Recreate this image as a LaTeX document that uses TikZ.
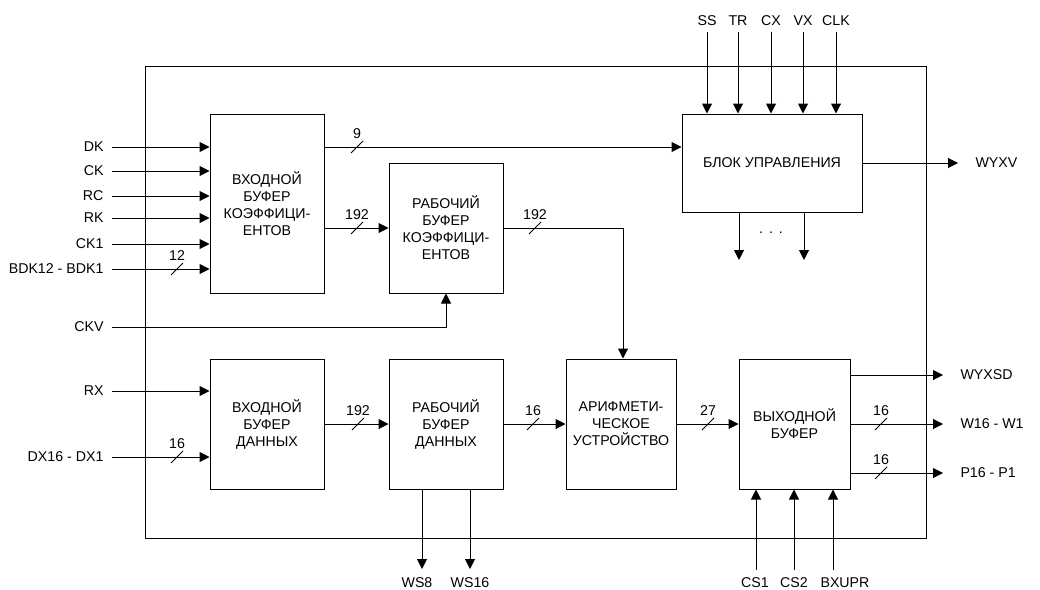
\documentclass[tikz,border=0pt]{standalone}
\usepackage{fontspec}
\setmainfont{Liberation Sans}
\usetikzlibrary{arrows.meta}
\begin{document}
\begin{tikzpicture}[x=1pt,y=-1pt, line width=1pt,
  arr/.style={-{Triangle[length=10pt,width=10pt]}},
  blk/.style={draw, align=center, inner sep=0pt, font=\fontsize{14.2}{17}\selectfont},
  lbl/.style={inner sep=0pt, font=\fontsize{14.2}{16}\selectfont},
  pics/bus/.style={code={\draw[line width=0.9pt] (-6,6) -- (6,-6); \node[lbl] at (0,-13) {#1};}}]
\useasboundingbox (0,0) rectangle (1040,589);
% frame
\node[draw, minimum width=781pt, minimum height=472pt, inner sep=0pt] (frame) at (535.5,302) {};
% blocks
\node[blk, minimum width=114pt, minimum height=179pt] (b1) at (267,203.5) {ВХОДНОЙ\\БУФЕР\\КОЭФФИЦИ-\\ЕНТОВ};
\node[blk, minimum width=114pt, minimum height=130pt] (b2) at (446,228) {РАБОЧИЙ\\БУФЕР\\КОЭФФИЦИ-\\ЕНТОВ};
\node[blk, minimum width=180pt, minimum height=98pt] (ctl) at (772,163) {БЛОК УПРАВЛЕНИЯ};
\node[blk, minimum width=114pt, minimum height=130pt] (b3) at (267,424) {ВХОДНОЙ\\БУФЕР\\ДАННЫХ};
\node[blk, minimum width=114pt, minimum height=130pt] (b4) at (446,424) {РАБОЧИЙ\\БУФЕР\\ДАННЫХ};
\node[blk, minimum width=110pt, minimum height=130pt] (alu) at (621,424) {АРИФМЕТИ-\\ЧЕСКОЕ\\УСТРОЙСТВО};
\node[blk, minimum width=111pt, minimum height=130pt] (out) at (794.5,424) {ВЫХОДНОЙ\\БУФЕР};
% left inputs to b1
\foreach \y/\t/\n in {147/DK/dk,171/CK/ck,196/RC/rc,218/RK/rk,244/CK1/ckone,269/BDK12 - BDK1/bdk}{
  \node[lbl, anchor=east] (l\n) at (104,\y) {\t};
  \coordinate (s\n) at (112,\y);
  \draw[arr] (s\n) -- (s\n -| b1.west);
}
\path (177,269) pic {bus=12};
% CKV
\node[lbl, anchor=east] (lckv) at (104,327) {CKV};
\coordinate (sckv) at (112,327);
\draw[arr] (sckv) -- (sckv -| b2.south) -- (b2.south);
% RX, DX
\node[lbl, anchor=east] (lrx) at (104,391) {RX};
\coordinate (srx) at (112,391);
\draw[arr] (srx) -- (srx -| b3.west);
\node[lbl, anchor=east] (ldx) at (104,457) {DX16 - DX1};
\coordinate (sdx) at (112,457);
\draw[arr] (sdx) -- (sdx -| b3.west);
\path (177,457) pic {bus=16};
% b1 -> ctl
\draw[arr] (sdk -| b1.east) -- (sdk -| ctl.west);
\path (357,147) pic {bus=9};
% b1 -> b2
\draw[arr] (b1.east |- b2.west) -- (b2.west);
\path (357,228) pic {bus=192};
% b2 -> alu
\coordinate (bend) at (623,228);
\draw[arr] (b2.east) -- (bend) -- (bend |- alu.north);
\path (535,228) pic {bus=192};
% data path
\draw[arr] (b3.east) -- (b4.west);
\path (358,424) pic {bus=192};
\draw[arr] (b4.east) -- (alu.west);
\path (533,424) pic {bus=16};
\draw[arr] (alu.east) -- (out.west);
\path (708,424) pic {bus=27};
% outputs of out
\coordinate (ewyxsd) at (943,375);
\coordinate (ew) at (943,424);
\coordinate (ep) at (943,473);
\draw[arr] (ewyxsd -| out.east) -- (ewyxsd);
\draw[arr] (ew -| out.east) -- (ew);
\draw[arr] (ep -| out.east) -- (ep);
\node[lbl, anchor=west] (lwyxsd) at (960,375) {WYXSD};
\node[lbl, anchor=west] (lw) at (960,424) {W16 - W1};
\node[lbl, anchor=west] (lp) at (960,473) {P16 - P1};
\path (881,424) pic {bus=16};
\path (881,473) pic {bus=16};
% CS inputs
\foreach \x/\lx/\t/\n in {756/755/CS1/csone,794/794/CS2/cstwo,833/845/BXUPR/bxupr}{
  \coordinate (s\n) at (\x,570);
  \draw[arr] (s\n) -- (s\n |- out.south);
  \node[lbl] (l\n) at (\lx,583) {\t};
}
% WS outputs
\foreach \x/\lx/\t/\n in {422/417/WS8/wseight,470/470/WS16/wssixteen}{
  \coordinate (e\n) at (\x,569);
  \draw[arr] (e\n |- b4.south) -- (e\n);
  \node[lbl] (l\n) at (\lx,583) {\t};
}
% control inputs
\foreach \x/\t/\n in {707/SS/ss,738/TR/tr,771/CX/cx,803/VX/vx,836/CLK/clk}{
  \coordinate (s\n) at (\x,32);
  \draw[arr] (s\n) -- (s\n |- ctl.north);
  \node[lbl] (l\n) at (\x,21) {\t};
}
% control outputs
\foreach \x/\n in {739/oa,804/ob}{
  \coordinate (e\n) at (\x,260);
  \draw[arr] (e\n |- ctl.south) -- (e\n);
}
\node[lbl] (dots) at (771,233) {.\hspace{6pt}.\hspace{6pt}.};
% WYXV
\coordinate (ewyxv) at (958,163);
\draw[arr] (ctl.east) -- (ewyxv);
\node[lbl, anchor=west] (lwyxv) at (975,163) {WYXV};
\end{tikzpicture}
\end{document}
